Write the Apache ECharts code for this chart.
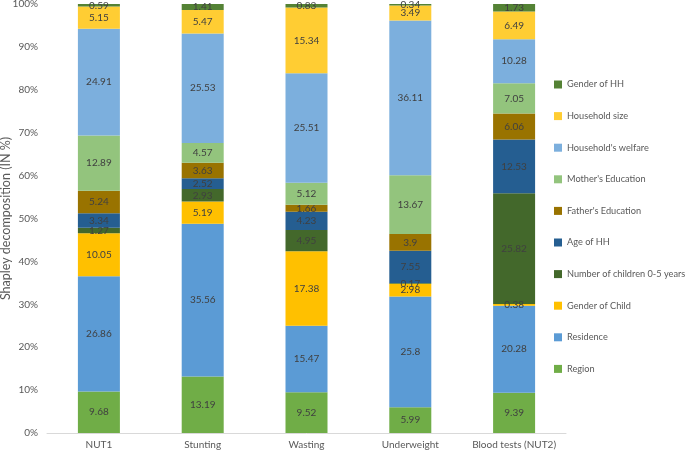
<!DOCTYPE html>
<html>
<head>
<meta charset="utf-8">
<script src="https://cdn.jsdelivr.net/npm/echarts@6/dist/echarts.min.js"></script>
<style>
  html, body { margin: 0; padding: 0; background: #fff; }
  #chart { width: 685px; height: 451px; }
</style>
</head>
<body>
<div id="chart"></div>
<script>
const categories = ["NUT1", "Stunting", "Wasting", "Underweight", "Blood tests (NUT2)"];

// stacked from bottom to top
const region       = [9.68, 13.19, 9.52, 5.99, 9.39];
const residence    = [26.86, 35.56, 15.47, 25.8, 20.28];
const genderChild  = [10.05, 5.19, 17.38, 2.98, 0.38];
const children05   = [1.27, 2.93, 4.95, 0.17, 25.82];
const ageHH        = [3.34, 2.52, 4.23, 7.55, 12.53];
const fatherEdu    = [5.24, 3.63, 1.66, 3.9, 6.06];
const motherEdu    = [12.89, 4.57, 5.12, 13.67, 7.05];
const welfare      = [24.91, 25.53, 25.51, 36.11, 10.28];
const hhSize       = [5.15, 5.47, 15.34, 3.49, 6.49];
const genderHH     = [0.59, 1.41, 0.83, 0.34, 1.73];

const seriesDefs = [
  { name: "Region", data: region, color: "#70ad47" },
  { name: "Residence", data: residence, color: "#5b9bd5" },
  { name: "Gender of Child", data: genderChild, color: "#ffc000" },
  { name: "Number of children 0-5 years", data: children05, color: "#43682b" },
  { name: "Age of HH", data: ageHH, color: "#255e91" },
  { name: "Father's Education", data: fatherEdu, color: "#997300" },
  { name: "Mother's Education", data: motherEdu, color: "#93c47d" },
  { name: "Household's welfare", data: welfare, color: "#7cafdd" },
  { name: "Household size", data: hhSize, color: "#ffcd33" },
  { name: "Gender of HH", data: genderHH, color: "#548235" }
];

const font = "Lato";
const chart = echarts.init(document.getElementById("chart"));

const option = {
  animation: false,
  textStyle: { fontFamily: font },
  grid: { left: 47, right: 119, top: 4, bottom: 18, containLabel: false, outerBoundsMode: "none" },
  legend: {
    orient: "vertical",
    left: 549,
    top: 75,
    itemWidth: 8,
    itemHeight: 8,
    itemGap: 22.6,
    icon: "rect",
    data: seriesDefs.map(s => s.name).reverse(),
    textStyle: { fontFamily: font, fontSize: 9.2, color: "#595959" }
  },
  xAxis: {
    type: "category",
    data: categories,
    axisLine: { lineStyle: { color: "#d9d9d9" } },
    axisTick: { show: false },
    axisLabel: { color: "#595959", fontSize: 10, margin: 7, interval: 0 }
  },
  yAxis: {
    type: "value",
    min: 0,
    max: 100,
    interval: 10,
    name: "Shapley decomposition (IN %)",
    nameLocation: "middle",
    nameGap: 35,
    nameMoveOverlap: false,
    nameTextStyle: { color: "#595959", fontSize: 12.5 },
    splitLine: { show: false },
    axisLine: { show: false },
    axisLabel: { color: "#595959", fontSize: 10, formatter: "{value}%", margin: 9 }
  },
  series: seriesDefs.map(s => ({
    name: s.name,
    type: "bar",
    stack: "total",
    barWidth: 42,
    data: s.data,
    itemStyle: { color: s.color },
    label: {
      show: true,
      position: "inside",
      color: "#404040",
      fontSize: 10,
      fontFamily: font
    }
  }))
};

chart.setOption(option);
</script>
</body>
</html>
